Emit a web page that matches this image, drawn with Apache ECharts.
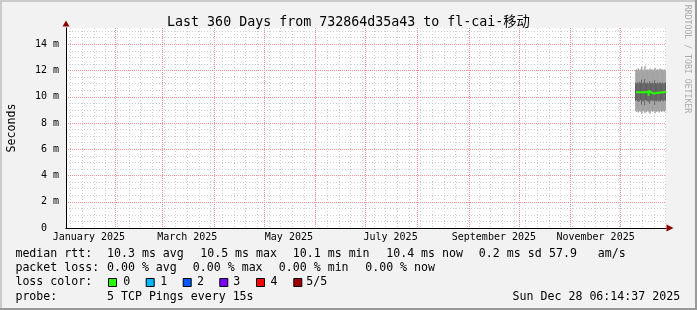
<!DOCTYPE html>
<html><head><meta charset="utf-8">
<script src="https://cdn.jsdelivr.net/npm/echarts@6/dist/echarts.min.js"></script>
<style>html,body{margin:0;padding:0;background:#f2f2f2}#c{width:697px;height:310px}</style>
</head><body><div id="c"></div>
<script>
// ---------- data ----------
const titleText = 'Last 360 Days from 732864d35a43 to fl-cai-移动';
const startTime = '2025-01-02 06:14:37';
const endTime = '2025-12-28 06:14:37';
const stepHours = 12;
const times = [
 '2025-12-10 06:00','2025-12-10 18:00','2025-12-11 06:00','2025-12-11 18:00','2025-12-12 06:00','2025-12-12 18:00',
 '2025-12-13 06:00','2025-12-13 18:00','2025-12-14 06:00','2025-12-14 18:00','2025-12-15 06:00','2025-12-15 18:00',
 '2025-12-16 06:00','2025-12-16 18:00','2025-12-17 06:00','2025-12-17 18:00','2025-12-18 06:00','2025-12-18 18:00',
 '2025-12-19 06:00','2025-12-19 18:00','2025-12-20 06:00','2025-12-20 18:00','2025-12-21 06:00','2025-12-21 18:00',
 '2025-12-22 06:00','2025-12-22 18:00','2025-12-23 06:00','2025-12-23 18:00','2025-12-24 06:00','2025-12-24 18:00',
 '2025-12-25 06:00','2025-12-25 18:00','2025-12-26 06:00','2025-12-26 18:00','2025-12-27 06:00','2025-12-27 18:00',
 '2025-12-28 06:00'];
// five sorted pings (ms)
const pingMax = [12.05,12.10,12.00,12.15,12.05,11.95,12.10,12.30,12.05,12.00,12.10,12.35,12.05,11.95,12.10,12.00,12.05,12.15,12.00,12.10,12.05,11.95,12.10,12.20,12.00,12.05,12.10,11.95,12.05,12.15,12.00,12.10,12.05,12.00,12.10,12.05,12.00];
const ping4 = [11.05,11.00,11.10,11.05,11.00,11.15,11.05,11.30,11.00,11.05,11.10,11.35,11.05,11.00,11.10,11.05,11.00,11.20,11.05,11.00,11.10,11.05,11.00,11.25,11.05,11.00,11.10,11.05,11.00,11.10,11.05,11.00,11.10,11.05,11.00,11.05,11.10];
const pingMedian = [10.35,10.30,10.40,10.35,10.30,10.40,10.35,10.50,10.30,10.35,10.40,10.45,10.35,10.30,10.35,10.40,10.10,10.45,10.35,10.30,10.40,10.35,10.25,10.40,10.35,10.30,10.40,10.35,10.30,10.35,10.40,10.35,10.30,10.40,10.35,10.30,10.40];
const ping2 = [9.70,9.75,9.65,9.70,9.60,9.70,9.75,9.40,9.70,9.65,9.70,9.35,9.75,9.70,9.65,9.70,9.60,9.45,9.70,9.75,9.65,9.70,9.70,9.40,9.70,9.65,9.75,9.70,9.60,9.70,9.65,9.75,9.70,9.65,9.70,9.75,9.70];
const pingMin = [8.90,8.85,8.95,8.80,8.90,8.95,8.85,8.70,8.90,8.95,8.85,8.75,8.90,8.85,8.95,8.90,8.80,8.70,8.90,8.95,8.85,8.90,8.95,8.75,8.90,8.85,8.95,8.90,8.80,8.90,8.95,8.85,8.90,8.95,8.85,8.90,8.95];

const yMax = 15.24;
const yTicks = [0,2,4,6,8,10,12,14];
const monthStarts = ['2025-02-01','2025-03-01','2025-04-01','2025-05-01','2025-06-01','2025-07-01','2025-08-01','2025-09-01','2025-10-01','2025-11-01','2025-12-01'];
const xLabelDates = ['2025-01-16','2025-03-16','2025-05-16','2025-07-16','2025-09-16','2025-11-16'];
const xLabels = ['January 2025','March 2025','May 2025','July 2025','September 2025','November 2025'];
const firstSunday = '2025-01-05';

const rttValues = [10.3, 10.5, 10.1, 10.4];
const rttNames = ['avg','max','min','now'];
const rttSd = 0.2;
const rttAmps = 57.9;
const lossValues = [0.00, 0.00, 0.00, 0.00];
const lossNames = ['avg','max','min','now'];
const lossColors = ['#26ff00','#00b8ff','#0059ff','#7e00ff','#ff0000','#a10000'];
const lossColorLabels = ['0','1','2','3','4','5/5'];
const probeText = '5 TCP Pings every 15s';
const dateText = 'Sun Dec 28 06:14:37 2025';
const rowLabels = ['median rtt:','packet loss:','loss color:','probe:'];

// ---------- helpers ----------
function T(s){
  const m = s.match(/(\d+)-(\d+)-(\d+)(?:[ T](\d+):(\d+)(?::(\d+))?)?/);
  return Date.UTC(+m[1], +m[2]-1, +m[3], +(m[4]||0), +(m[5]||0), +(m[6]||0));
}
const tMin = T(startTime), tMax = T(endTime);
const stepMs = stepHours * 3600000;
const ts = times.map(T);
const monthTs = monthStarts.map(T);
const labelTs = xLabelDates.map(T);
const labelMap = {}; labelTs.forEach((t,i)=>labelMap[t]=xLabels[i]);
const sundays = []; for (let t = T(firstSunday); t <= tMax; t += 7*86400000) sundays.push(t);
const yMinor = []; for (let v = 0.5; v <= yMax; v += 0.5) if (v % 2 !== 0) yMinor.push(v);

const mono = "'DejaVu Sans Mono', 'Noto Sans CJK SC', monospace";

function baseX(extra){ return Object.assign({type:'value', position:'bottom', min:tMin, max:tMax, scale:true, axisLine:{show:false}, axisTick:{show:false}, axisLabel:{show:false}, splitLine:{show:false}}, extra); }
function baseY(extra){ return Object.assign({type:'value', position:'left', min:0, max:yMax, axisLine:{show:false}, axisTick:{show:false}, axisLabel:{show:false}, splitLine:{show:false}}, extra); }

const xAxes = [
  baseX({z:0, axisTick:{show:false, customValues:sundays}, splitLine:{show:true, lineStyle:{color:'#cfcfcf', width:1, type:[1,2]}}}),
  baseX({z:1, axisTick:{show:false, customValues:monthTs}, splitLine:{show:true, lineStyle:{color:'#ee9393', width:1, type:[1,1]}},
    axisLabel:{show:true, customValues:labelTs, formatter:(v)=>labelMap[v]||'', fontFamily:mono, fontSize:10, color:'#000', margin:4}}),
  baseX({z:3, axisLine:{show:true, onZero:false, symbol:['none','triangle'], symbolSize:[7,7], symbolOffset:[0,4], lineStyle:{color:'#8b0000', width:1}}}),
  baseX({z:4, axisLine:{show:true, onZero:false, lineStyle:{color:'#000', width:1}}})
];
const yAxes = [
  baseY({z:0, axisTick:{show:false, customValues:yMinor}, splitLine:{show:true, lineStyle:{color:'#cfcfcf', width:1, type:[1,2]}}}),
  baseY({z:1, axisTick:{show:false, customValues:yTicks}, splitLine:{show:true, lineStyle:{color:'#ee9393', width:1, type:[1,1]}},
    name:'Seconds', nameLocation:'middle', nameGap:48, nameTextStyle:{fontFamily:mono, fontSize:11.6, color:'#000'},
    axisLabel:{show:true, customValues:yTicks, formatter:(v)=> v===0 ? '0  ' : v+' m', fontFamily:mono, fontSize:10, color:'#000', margin:7}}),
  baseY({z:3, axisLine:{show:true, onZero:false, symbol:['none','triangle'], symbolSize:[7,6], symbolOffset:[0,4.5], lineStyle:{color:'#8b0000', width:1}}}),
  baseY({z:4, axisLine:{show:true, onZero:false, lineStyle:{color:'#000', width:1}}})
];

// smoke: each sample covers (t - step, t]; outer band = min..max, inner band = 2nd..4th ping
const smokeData = ts.map((t,i)=>[t, pingMin[i], ping2[i], ping4[i], pingMax[i]]);
function renderSmoke(params, api){
  const t = api.value(0);
  const xa = api.coord([t - stepMs, 0])[0];
  const xb = api.coord([t, 0])[0];
  const y = v => api.coord([t, v])[1];
  const w = xb - xa + 0.6;
  return {type:'group', children:[
    {type:'rect', shape:{x:xa, y:y(api.value(4)), width:w, height:y(api.value(1)) - y(api.value(4))}, style:{fill:'#a4a4a4'}},
    {type:'rect', shape:{x:xa, y:y(api.value(3)), width:w, height:y(api.value(2)) - y(api.value(3))}, style:{fill:'#585858'}}
  ]};
}
const series = [
  {name:'smoke', type:'custom', xAxisIndex:1, yAxisIndex:1, renderItem:renderSmoke, data:smokeData, silent:true, z:2,
   encode:{x:0, y:[1,2,3,4]}, clip:true},
  {name:'median', type:'line', xAxisIndex:1, yAxisIndex:1, step:'start', showSymbol:false, silent:true,
   lineStyle:{color:lossColors[0], width:2}, data: ts.map((t,i)=>[t, pingMedian[i]]), z:5}
];

// ---------- legend text ----------
const fs = 11.6;
const rowY = [254.3, 268.3, 282.3, 296.5];
const rttX = [107, 200.2, 292.8, 386.2, 478.8, 549, 597.8];
const lossX = [107, 192.8, 278.8, 365.2];
const sqX = [108, 145.7, 182.7, 219.3, 256, 293.3];
const sqLabelX = [123.3, 160.3, 197, 233.3, 270.6, 306.3];
function txt(x, y, s, opts){
  opts = opts || {};
  return {type:'text', x, y, rotation: opts.rotation || 0, z:10, silent:true,
    style:{text:s, font:(opts.size||fs)+'px '+mono, fill:opts.color||'#000',
      textAlign:opts.align||'left', align:opts.align||'left', textVerticalAlign:'middle', verticalAlign:'middle'}};
}
const graphics = [
  {type:'rect', shape:{x:0,y:0,width:697,height:2}, style:{fill:'#cbcbcb'}, z:0},
  {type:'rect', shape:{x:0,y:0,width:2,height:310}, style:{fill:'#cbcbcb'}, z:0},
  {type:'rect', shape:{x:695,y:0,width:2,height:310}, style:{fill:'#999999'}, z:0},
  {type:'rect', shape:{x:0,y:308,width:697,height:2}, style:{fill:'#999999'}, z:0},
  txt(687, 59, 'RRDTOOL / TOBI OETIKER', {size:8.2, color:'#aaaaaa', align:'center', rotation:-Math.PI/2})
];
rowLabels.forEach((s,i)=>graphics.push(txt(15.4, rowY[i], s)));
rttValues.forEach((v,i)=>graphics.push(txt(rttX[i], rowY[0], v.toFixed(1)+' ms '+rttNames[i])));
graphics.push(txt(rttX[4], rowY[0], rttSd.toFixed(1)+' ms sd'));
graphics.push(txt(rttX[5], rowY[0], rttAmps.toFixed(1)));
graphics.push(txt(rttX[6], rowY[0], 'am/s'));
lossValues.forEach((v,i)=>graphics.push(txt(lossX[i], rowY[1], v.toFixed(2)+' % '+lossNames[i])));
lossColors.forEach((c,i)=>{
  graphics.push({type:'rect', shape:{x:sqX[i]+0.5, y:278.5, width:8, height:8}, style:{fill:c, stroke:'#000', lineWidth:1}, z:10});
  graphics.push(txt(sqLabelX[i], rowY[2], lossColorLabels[i]));
});
graphics.push(txt(107, rowY[3], probeText));
graphics.push(txt(512.6, rowY[3], dateText));

const chart = echarts.init(document.getElementById('c'), null, {renderer:'canvas'});
chart.setOption({
  animation:false,
  backgroundColor:'#f2f2f2',
  title:{text:titleText, left:'center', top:15.7, padding:0,
    textStyle:{fontFamily:mono, fontSize:13.3, fontWeight:'normal', color:'#000', lineHeight:14}},
  grid:{left:66, right:31, top:28, bottom:82, show:true, backgroundColor:'#ffffff', borderWidth:0,
    containLabel:false, outerBoundsMode:'none'},
  xAxis:xAxes, yAxis:yAxes, series, graphic:graphics
});
</script></body></html>
